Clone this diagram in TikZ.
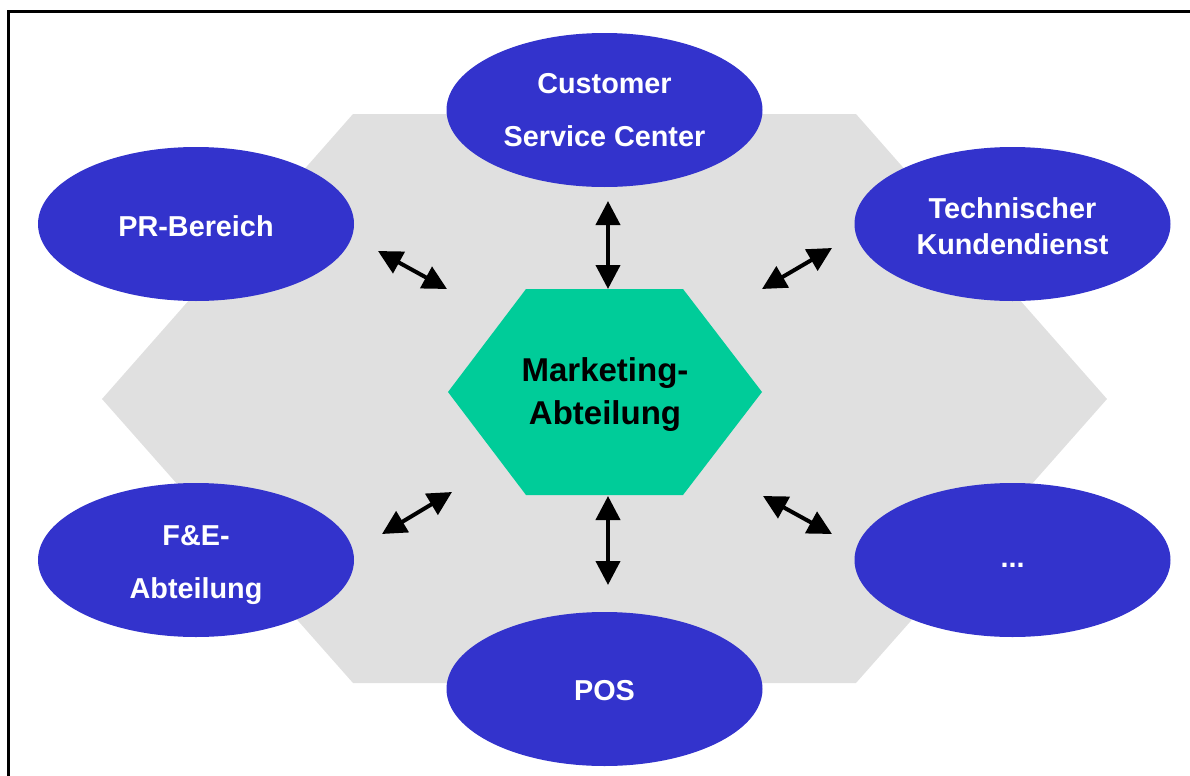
\documentclass[tikz,border=0pt]{standalone}
\usepackage{fontspec}
\setmainfont{Liberation Sans}
\usetikzlibrary{shapes.geometric,arrows.meta}
\definecolor{oblue}{HTML}{3333CC}
\definecolor{mgreen}{HTML}{00CC99}
\definecolor{hgray}{HTML}{E0E0E0}
\begin{document}
\begin{tikzpicture}[x=0.5pt,y=-0.5pt,
  unit/.style={ellipse, fill=oblue, minimum width=158pt, minimum height=77pt, inner sep=0pt,
    text=white, align=center, font=\fontsize{14.4}{26.5}\selectfont\bfseries},
  utext/.style={text=white, align=center, inner sep=0pt, font=\fontsize{14.4}{26.5}\selectfont\bfseries},
  tight/.style={font=\fontsize{14.4}{18}\selectfont\bfseries},
  core/.style={text=black, align=center, font=\fontsize{16.5}{21.5}\selectfont\bfseries},
  link/.style={line width=2pt, {Triangle[length=12pt,width=12pt]}-{Triangle[length=12pt,width=12pt]}},
  frame/.style={line width=1.5pt}]
\useasboundingbox (0,0) rectangle (1190,776);
% frame (only left and top edges visible)
\draw[frame] (8,776) -- (8,11) -- (1190,11);
% grey background hexagon
\fill[hgray] (102,399) -- (353,114) -- (856,114) -- (1107,399) -- (856,683) -- (353,683) -- cycle;
% outer units
\node[unit] (csc) at (604.5,110) {Customer\\Service Center};
\node[unit] (pr) at (196,224) {};
\node[utext] (prt) at (196,226) {PR-Bereich};
\node[unit] (tk) at (1012.5,224) {};
\node[utext, tight] (tkt) at (1012.5,226) {Technischer\\Kundendienst};
\node[unit] (fe) at (196,560) {};
\node[utext] (fet) at (196,565) {F\&E-\\Abteilung};
\node[unit] (etc) at (1012.5,560) {};
\node[utext] (etct) at (1012.5,565) {...};
\node[unit] (pos) at (604.5,689) {};
\node[utext] (post) at (604.5,691) {POS};
% central hexagon
\fill[mgreen] (448,392) -- (526,289) -- (683,289) -- (762,392) -- (683,495) -- (526,495) -- cycle;
\node[core] (mkt) at (605,395) {Marketing-\\Abteilung};
% arrow end points
\coordinate (t1) at (608,201); \coordinate (t2) at (608,289);
\coordinate (l1) at (378,251); \coordinate (l2) at (447,289);
\coordinate (r1) at (832,248); \coordinate (r2) at (762,289);
\coordinate (fl1) at (382,534); \coordinate (fl2) at (452,492);
\coordinate (fr1) at (832,534); \coordinate (fr2) at (763,496);
\coordinate (b1) at (608,585); \coordinate (b2) at (608,496);
\draw[link] (t1) -- (t2);
\draw[link] (l1) -- (l2);
\draw[link] (r1) -- (r2);
\draw[link] (fl1) -- (fl2);
\draw[link] (fr1) -- (fr2);
\draw[link] (b1) -- (b2);
\end{tikzpicture}
\end{document}
